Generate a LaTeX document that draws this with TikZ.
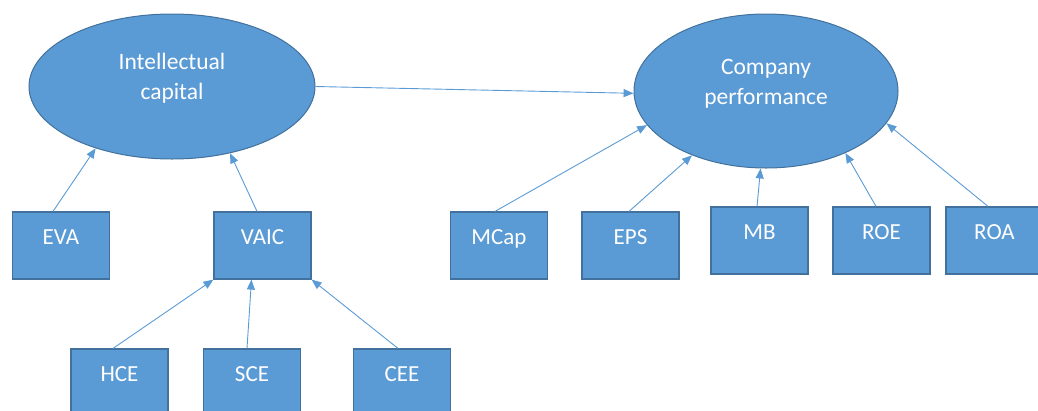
\documentclass[tikz,border=0pt]{standalone}
\usepackage{fontspec}
\setmainfont{Carlito}
\usetikzlibrary{shapes.geometric,arrows.meta}
\definecolor{shapefill}{HTML}{5B9BD5}
\definecolor{shapeline}{HTML}{41719C}
\definecolor{linkline}{HTML}{5B9BD5}
\tikzset{
  bubble/.style={ellipse, draw=shapeline, fill=shapefill, line width=1pt, inner sep=0pt},
  bubbletext/.style={text=white, align=center, anchor=base, font=\fontsize{23.5}{30}\selectfont},
  measure/.style={rectangle, draw=shapeline, fill=shapefill, line width=1.2pt,
    minimum width=97pt, minimum height=67pt, inner sep=0pt,
    text=white, text height=0pt, text depth=3pt, font=\fontsize{23}{30}\selectfont},
  link/.style={draw=linkline, line width=0.9pt, -{Triangle[length=10pt,width=8pt]}}
}
\begin{document}
\begin{tikzpicture}[x=1pt,y=-1pt]
\useasboundingbox (0,0) rectangle (1038,410);
\clip (0,0) rectangle (1038,410);

% latent constructs (text nodes sit on the baseline of their last line)
\node[bubble, minimum width=286pt, minimum height=145pt] (ic) at (172,86.5) {};
\node[bubbletext] (ict) at (172,99.5) {Intellectual\\capital};
\node[bubble, minimum width=264pt, minimum height=154pt] (cp) at (766,91) {};
\node[bubbletext] (cpt) at (766,104) {Company\\performance};

% intellectual capital measures
\node[measure] (eva)  at (61,245.5)   {EVA};
\node[measure] (vaic) at (262.5,245.5) {VAIC};
\node[measure] (hce)  at (119.5,382.5) {HCE};
\node[measure] (sce)  at (252,382.5)   {SCE};
\node[measure] (cee)  at (402,382.5)   {CEE};

% performance measures
\node[measure] (mcap) at (499,245.5)   {MCap};
\node[measure] (eps)  at (630.5,245.5) {EPS};
\node[measure] (mb)   at (759.5,240.5) {MB};
\node[measure] (roe)  at (881.5,240.5) {ROE};
\node[measure] (roa)  at (994.5,240.5) {ROA};

% links
\draw[link] (ic.east) -- (cp.181);
\draw[link] ([xshift=-8pt]eva.north) -- (ic.219);
\draw[link] ([xshift=-5.5pt]vaic.north) -- (ic.311);
\draw[link] ([xshift=-6.5pt]hce.north) -- (vaic.south west);
\draw[link] ([xshift=-5pt]sce.north) -- ([xshift=-11pt]vaic.south);
\draw[link] ([xshift=-4pt]cee.north) -- (vaic.south east);
\draw[link] ([xshift=-4pt]mcap.north) -- (cp.196);
\draw[link] ([xshift=-1.5pt]eps.north) -- (cp.221);
\draw[link] ([xshift=-2.5pt]mb.north) -- (cp.266);
\draw[link] ([xshift=-5.5pt]roe.north) -- (cp.322);
\draw[link] ([xshift=-6.5pt]roa.north) -- (cp.345);
\end{tikzpicture}
\end{document}
